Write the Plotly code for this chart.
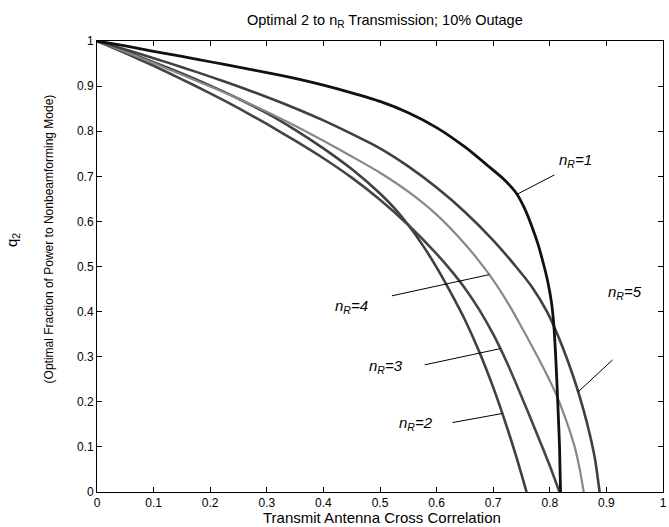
import plotly.graph_objects as go

# ---- data ----
x_n1 = [0, 0.05, 0.1, 0.15, 0.2, 0.25, 0.3, 0.35, 0.4, 0.45, 0.5, 0.55, 0.6, 0.65, 0.69, 0.72, 0.74, 0.755, 0.768, 0.779, 0.789, 0.797, 0.803, 0.807, 0.81, 0.8125, 0.815, 0.8172, 0.819]
q_n1 = [1, 0.989, 0.977, 0.966, 0.954, 0.942, 0.930, 0.917, 0.902, 0.885, 0.866, 0.841, 0.808, 0.765, 0.724, 0.692, 0.664, 0.630, 0.590, 0.550, 0.505, 0.463, 0.420, 0.372, 0.310, 0.245, 0.170, 0.100, 0]

x_n5 = [0, 0.05, 0.1, 0.15, 0.2, 0.25, 0.3, 0.35, 0.4, 0.45, 0.5, 0.55, 0.6, 0.65, 0.7, 0.74, 0.77, 0.795, 0.815, 0.832, 0.847, 0.86, 0.871, 0.88, 0.888]
q_n5 = [1, 0.981, 0.962, 0.942, 0.921, 0.899, 0.876, 0.851, 0.824, 0.794, 0.762, 0.722, 0.675, 0.621, 0.558, 0.500, 0.452, 0.400, 0.345, 0.290, 0.235, 0.180, 0.126, 0.072, 0]

x_n4 = [0, 0.05, 0.1, 0.15, 0.2, 0.25, 0.3, 0.35, 0.4, 0.45, 0.5, 0.55, 0.6, 0.65, 0.675, 0.7, 0.728, 0.75, 0.769, 0.79, 0.812, 0.83, 0.844, 0.853, 0.86]
q_n4 = [1, 0.976, 0.951, 0.925, 0.899, 0.872, 0.843, 0.812, 0.779, 0.744, 0.708, 0.666, 0.615, 0.550, 0.512, 0.470, 0.415, 0.366, 0.322, 0.272, 0.214, 0.155, 0.100, 0.050, 0]

x_n3 = [0, 0.05, 0.1, 0.15, 0.2, 0.25, 0.3, 0.35, 0.4, 0.45, 0.5, 0.55, 0.6, 0.625, 0.65, 0.675, 0.7, 0.725, 0.75, 0.775, 0.8, 0.817]
q_n3 = [1, 0.973, 0.945, 0.915, 0.884, 0.851, 0.816, 0.779, 0.740, 0.697, 0.648, 0.592, 0.528, 0.492, 0.452, 0.405, 0.350, 0.285, 0.212, 0.136, 0.058, 0]

x_n2 = [0, 0.05, 0.1, 0.15, 0.2, 0.25, 0.3, 0.35, 0.4, 0.45, 0.5, 0.525, 0.55, 0.575, 0.6, 0.625, 0.65, 0.675, 0.7, 0.72, 0.74, 0.759]
q_n2 = [1, 0.977, 0.953, 0.928, 0.901, 0.872, 0.840, 0.803, 0.762, 0.716, 0.662, 0.630, 0.592, 0.548, 0.498, 0.442, 0.382, 0.312, 0.232, 0.160, 0.082, 0]

tick_vals = [0, 0.1, 0.2, 0.3, 0.4, 0.5, 0.6, 0.7, 0.8, 0.9, 1]
tick_text = ["0", "0.1", "0.2", "0.3", "0.4", "0.5", "0.6", "0.7", "0.8", "0.9", "1"]

labels = ["n<sub>R</sub>=1", "n<sub>R</sub>=4", "n<sub>R</sub>=3", "n<sub>R</sub>=2", "n<sub>R</sub>=5"]
label_pos = [(0.845, 0.734), (0.449, 0.412), (0.510, 0.279), (0.563, 0.151), (0.932, 0.443)]
pointer_from = [(0.808, 0.703), (0.521, 0.435), (0.579, 0.282), (0.628, 0.154), (0.911, 0.293)]
pointer_to = [(0.742, 0.660), (0.693, 0.482), (0.713, 0.318), (0.716, 0.174), (0.850, 0.222)]

FONT = "Liberation Sans, Arial, Helvetica, sans-serif"

fig = go.Figure()
series = [
    (x_n2, q_n2, "#404040", 2.6),
    (x_n3, q_n3, "#454545", 2.6),
    (x_n4, q_n4, "#888888", 2.2),
    (x_n5, q_n5, "#404040", 2.6),
    (x_n1, q_n1, "#111111", 2.8),
]
for xs, qs, col, w in series:
    fig.add_trace(go.Scatter(x=xs, y=qs, mode="lines",
                             line=dict(color=col, width=w, shape="spline", smoothing=0.6),
                             showlegend=False, hoverinfo="skip"))

for (fx, fy), (tx, ty) in zip(pointer_from, pointer_to):
    fig.add_trace(go.Scatter(x=[fx, tx], y=[fy, ty], mode="lines",
                             line=dict(color="black", width=1),
                             showlegend=False, hoverinfo="skip"))

annotations = []
for txt, (lx, ly) in zip(labels, label_pos):
    annotations.append(dict(x=lx, y=ly, xref="x", yref="y", text="<i>" + txt + "</i>",
                            showarrow=False, font=dict(family=FONT, size=15, color="black")))

annotations.append(dict(x=-0.148, y=0.559, xref="paper", yref="paper", text="q<sub>2</sub>",
                        textangle=-90, showarrow=False, xanchor="center", yanchor="middle",
                        font=dict(family=FONT, size=15, color="black")))
annotations.append(dict(x=-0.084, y=0.561, xref="paper", yref="paper",
                        text="(Optimal Fraction of Power to Nonbeamforming Mode)",
                        textangle=-90, showarrow=False, xanchor="center", yanchor="middle",
                        font=dict(family=FONT, size=12, color="black")))
annotations.append(dict(x=0.503, y=-0.0576, xref="paper", yref="paper", yanchor="middle",
                        xanchor="center",
                        text="Transmit Antenna Cross Correlation", showarrow=False,
                        font=dict(family=FONT, size=15, color="black")))
annotations.append(dict(x=0.509, y=1.0, xref="paper", yref="paper", yanchor="bottom", yshift=9,
                        xanchor="center",
                        text="Optimal 2 to n<sub>R</sub> Transmission; 10% Outage", showarrow=False,
                        font=dict(family=FONT, size=14.5, color="black")))

axis_common = dict(showline=True, linecolor="black", linewidth=1, mirror="ticks",
                   ticks="inside", ticklen=5, tickcolor="black", tickwidth=1,
                   showgrid=False, zeroline=False, ticklabeloverflow="allow",
                   tickfont=dict(family=FONT, size=12, color="black"),
                   tickvals=tick_vals, ticktext=tick_text)

fig.update_layout(
    width=669, height=527,
    margin=dict(l=97, r=2, t=41, b=35),
    paper_bgcolor="white", plot_bgcolor="white",
    xaxis=dict(range=[0, 1], **axis_common),
    yaxis=dict(range=[0, 1], **axis_common),
    annotations=annotations,
)

fig.write_html("out.html")
